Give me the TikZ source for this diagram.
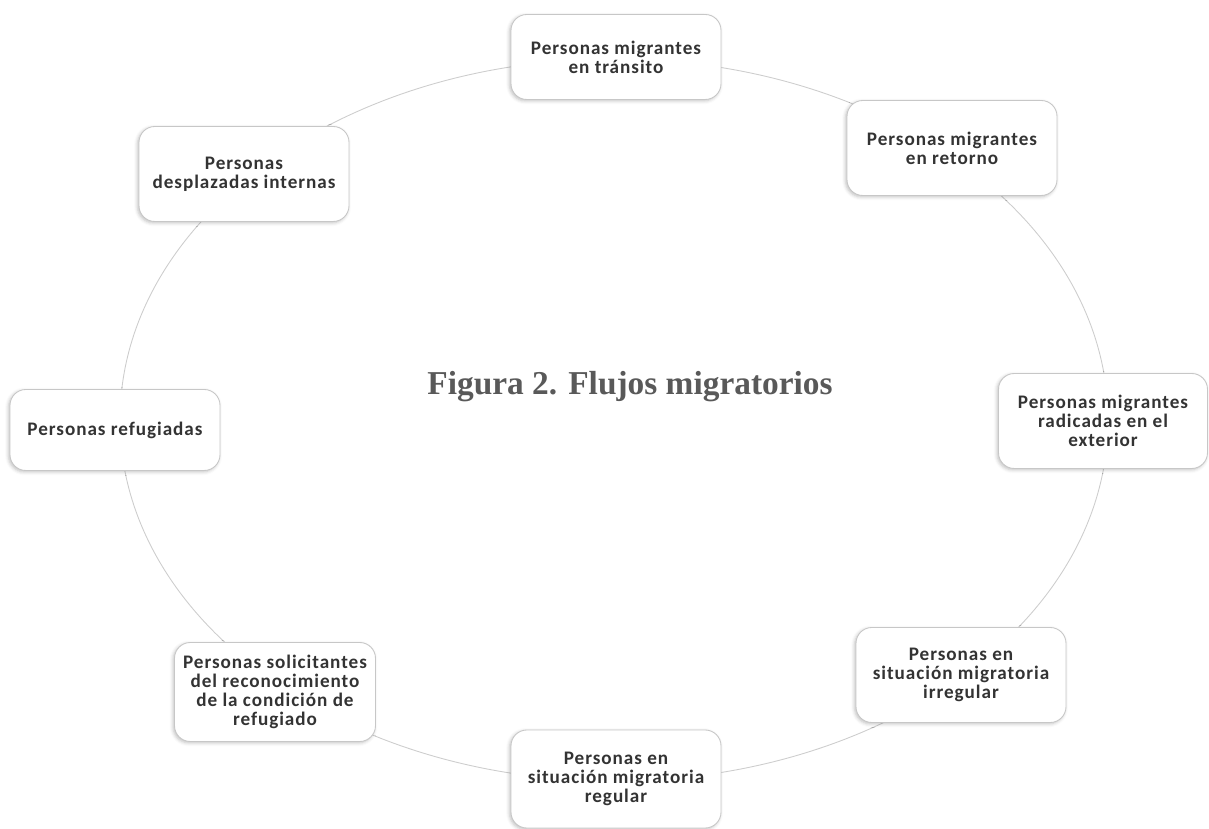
\documentclass[tikz,border=0pt]{standalone}
\usepackage{fontspec}
\setmainfont{Carlito}[LetterSpace=5]
\newfontfamily\titlefont{Liberation Serif}
\usepackage{tikz}
\usetikzlibrary{positioning, calc, shadows.blur}

\definecolor{flowtext}{HTML}{333333}
\definecolor{ringgray}{HTML}{CDCDCD}

\begin{document}
\begin{tikzpicture}[
    flowbox/.style={draw=black!22, line width=0.5pt, fill=white, rounded corners=9pt,
      minimum width=4.2cm, minimum height=1.9cm, align=center, text=flowtext,
      font=\fontsize{10.9}{10.7}\selectfont\bfseries,
      blur shadow={shadow xshift=-0.8pt, shadow yshift=-0.8pt, shadow blur steps=4, shadow opacity=25}},
    ring/.style={ringgray, line width=0.5pt}
  ]
        \useasboundingbox (0,0) rectangle (24.18,16.56);
        \coordinate (c) at (12.28,8.16);
        \draw[ring] (c) ellipse (9.88 and 7.22);
        % the eight flows
        \node[flowbox, minimum height=1.7cm] (transito) at (12.32,15.42) {Personas migrantes\\en tránsito};
        \node[flowbox] (retorno) at (19.04,13.6) {Personas migrantes\\en retorno};
        \node[flowbox, minimum width=4.18cm] (exterior) at (22.06,8.14) {Personas migrantes\\radicadas en el\\exterior};
        \node[flowbox] (irregular) at (19.22,3.06) {Personas en\\situación migratoria\\irregular};
        \node[flowbox, minimum height=1.96cm] (regular) at (12.32,0.98) {Personas en\\situación migratoria\\regular};
        \node[flowbox, minimum width=4.02cm, minimum height=1.98cm] (solicitantes) at (5.5,2.72) {Personas solicitantes\\del reconocimiento\\de la condición de\\refugiado};
        \node[flowbox, minimum height=1.62cm] (refugiadas) at (2.3,7.96) {Personas refugiadas};
        \node[flowbox] (desplazadas) at (4.88,13.08) {Personas\\desplazadas internas};
        \node[font=\titlefont\fontsize{19}{22}\selectfont\bfseries, text=black!65] (titulo) at (12.6,8.82) {Figura 2. Flujos migratorios};
      \end{tikzpicture}
\end{document}
